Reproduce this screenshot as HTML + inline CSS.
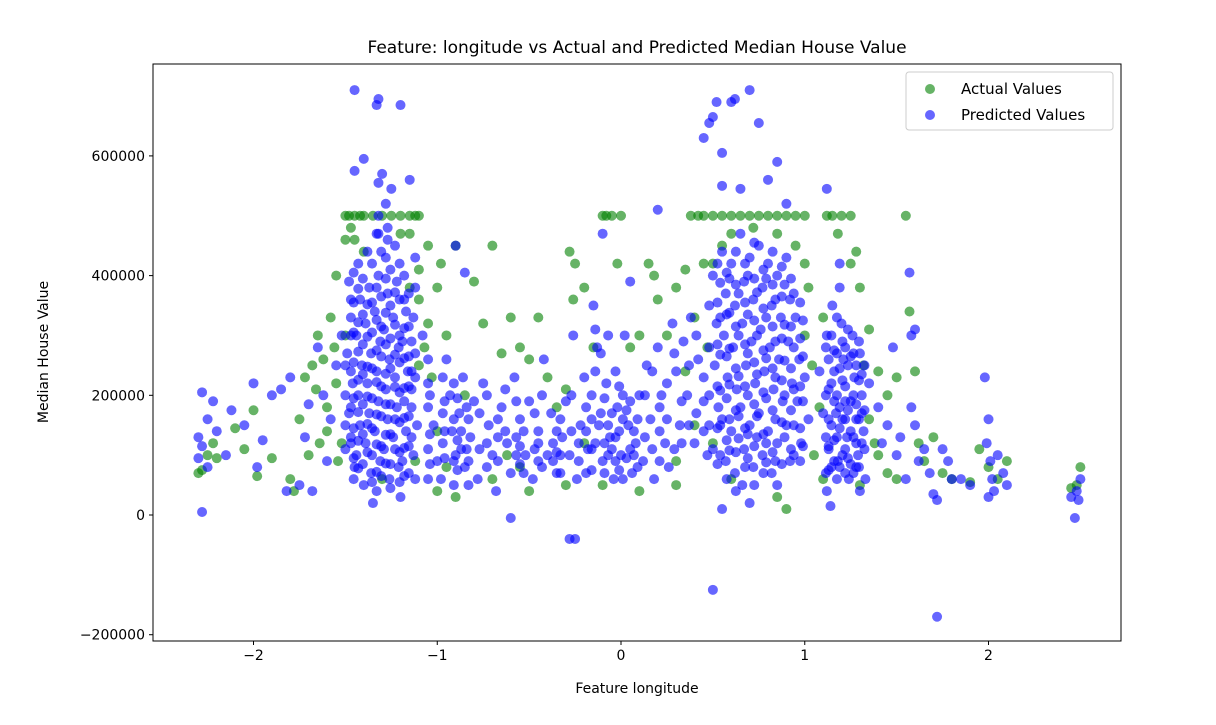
<!DOCTYPE html>
<html><head><meta charset="utf-8"><style>
body{margin:0;background:#fff;font-family:"Liberation Sans","DejaVu Sans",sans-serif}
svg text{font-family:"DejaVu Sans","Liberation Sans",sans-serif}
</style></head><body>
<svg id="chart" width="1216" height="720" xmlns="http://www.w3.org/2000/svg">
<rect width="1216" height="720" fill="#fff"/>
<g id="marks"></g>
<g id="axes"></g>
</svg>
<script>
// [feature value, median house value in thousands]
const actualPoints=[[-2.3,70],[-2.28,75],[-2.25,100],[-2.22,120],[-2.2,95],[-2.1,145],[-2.05,110],[-2.0,175],[-1.98,65],[-1.9,95],[-1.8,60],[-1.78,40],[-1.75,160],[-1.7,100],[-1.68,250],[-1.65,300],[-1.6,180],[-1.58,330],[-1.55,220],[-1.52,120],
[-1.5,500],[-1.48,500],[-1.45,500],[-1.42,500],[-1.4,500],[-1.35,500],[-1.3,500],[-1.25,500],[-1.2,500],[-1.15,500],[-1.12,500],[-1.1,500],[-1.45,460],[-1.4,440],[-1.2,470],[-1.1,410],[-1.05,450],[-1.0,380],[-0.98,420],[-1.05,320],[-0.95,300],[-0.9,450],[-0.85,200],[-0.8,390],[-0.75,320],[-0.7,450],[-0.65,270],[-0.6,330],[-0.55,280],[-0.5,260],[-0.45,330],[-0.4,230],[-0.35,180],[-0.3,210],[-0.28,440],[-0.26,360],[-0.25,420],[-0.2,380],[-0.15,280],[-0.1,500],[-0.08,500],[-0.05,500],[0,500],[-0.02,420],[0.05,280],[0.1,300],[0.15,420],[0.18,400],[0.2,360],[0.25,300],[0.3,380],[0.35,410],[0.38,500],[0.42,500],[0.45,500],[0.5,500],[0.55,500],[0.6,500],[0.65,500],[0.7,500],[0.75,500],[0.8,500],[0.85,500],[0.9,500],[0.95,500],[1.0,500],[1.12,500],[1.15,500],[1.2,500],[1.25,500],[1.28,440],[1.3,380],[1.35,310],[1.4,240],[1.45,200],[1.5,230],[1.55,500],[1.57,340],[1.6,240],[1.62,120],[1.65,90],[1.7,130],[1.75,70],[1.8,60],[1.9,55],[1.95,110],[2.0,80],[2.05,60],[2.1,90],[2.45,45],[2.48,50],[2.5,80],
[-1.3,60],[-1.0,40],[-0.9,30],[-0.7,60],[-0.5,40],[-0.3,50],[-0.1,50],[0.1,40],[0.3,50],[0.6,60],[0.85,30],[0.9,10],[1.1,60],[1.3,50],[-0.55,80],[-0.2,120],[0.4,150],[0.5,120],[1.45,70],[1.5,60],
[-1.5,300],[-1.55,400],[-1.1,250],[-1.15,380],[0.5,420],[0.55,450],[1.0,300],[1.0,420],[1.1,330],[1.35,160],[-1.12,90],[-1.0,140],[-0.95,80],[-0.62,100],[0.3,90],[0.35,240],[1.05,100],[1.38,120],
[-1.62,260],[-1.66,210],[-1.6,140],[-1.56,280],[-1.64,120],[-1.72,230],[-1.54,90],[-1.5,460],[-1.47,480],[-1.15,470],[-1.1,360],[-1.07,280],[-1.03,230],[0.6,470],[0.72,480],[0.85,470],[0.95,450],[1.02,380],[1.04,250],[1.08,180],[1.18,470],[1.25,420],[1.32,250],[1.4,100],[0.47,280],[0.45,420],[0.4,330]];
const predictedPoints=[[-1.45,710],[-1.32,695],[-1.33,685],[-1.2,685],[-1.4,595],[-1.45,575],[-1.3,570],[-1.32,555],[-1.25,545],[-1.15,560],[-1.28,520],[0.45,630],[0.48,655],[0.5,665],[0.52,690],[0.6,690],[0.62,695],[0.7,710],[0.75,655],[0.55,605],[0.85,590],[0.8,560],[0.55,550],[0.65,545],[0.9,520],[1.12,545],[-0.25,-40],[-0.28,-40],[0.5,-125],[1.72,-170],[-2.28,5],[-0.6,-5],[2.47,-5],[0.2,510],[-0.1,470],[-0.9,450],[-0.85,405],[0.05,390],[1.57,405],[1.6,310],[1.58,300],
[-2.3,130],[-2.28,205],[-2.25,160],[-2.22,190],[-2.25,80],[-2.2,140],[-2.28,115],[-2.3,95],[-2.15,100],[-2.12,175],[-2.05,150],[-2.0,220],[-1.98,80],[-1.95,125],[-1.9,200],[-1.85,210],[-1.8,230],[-1.82,40],[-1.75,50],[-1.72,130],[-1.7,185],[-1.68,40],[-1.65,280],[-1.62,200],[-1.6,90],[-1.58,160],[-1.55,250],[-1.52,300],
[-1.48,390],[-1.47,330],[-1.49,270],[-1.46,220],[-1.48,170],[-1.47,120],[-1.45,80],[-1.43,420],[-1.42,360],[-1.44,300],[-1.41,250],[-1.43,200],[-1.42,150],[-1.44,100],[-1.38,440],[-1.37,380],[-1.39,320],[-1.36,270],[-1.38,220],[-1.37,170],[-1.39,120],[-1.36,70],[-1.33,470],[-1.32,400],[-1.34,340],[-1.31,290],[-1.33,240],[-1.32,190],[-1.34,140],[-1.31,90],[-1.33,40],[-1.28,430],[-1.27,370],[-1.29,310],[-1.26,260],[-1.28,210],[-1.27,160],[-1.29,110],[-1.26,60],[-1.23,450],[-1.22,390],[-1.24,330],[-1.21,280],[-1.23,230],[-1.22,180],[-1.24,130],[-1.21,80],[-1.18,400],[-1.17,340],[-1.19,290],[-1.16,240],[-1.18,190],[-1.17,140],[-1.19,90],[-1.13,330],[-1.12,270],[-1.14,210],[-1.11,150],[-1.13,100],[-1.35,20],[-1.2,30],[-1.4,50],
[-1.08,300],[-1.05,220],[-1.02,150],[-1.0,90],[-0.98,60],[-0.95,260],[-0.93,200],[-0.92,140],[-0.9,100],[-0.88,170],[-0.86,230],[-0.85,80],[-0.82,130],[-0.8,190],[-0.78,60],[-0.75,220],[-0.72,150],[-0.7,100],[-0.68,40],[-0.65,180],[-0.62,120],[-0.6,70],[-0.58,230],[-0.55,160],[-0.52,100],[-0.5,190],[-0.48,60],[-0.45,140],[-0.42,260],[-0.4,100],[-0.38,170],[-0.35,70],[-0.32,130],[-0.3,190],[-0.28,100],[-0.26,300],[-0.24,60],[-0.22,150],[-0.2,230],[-0.18,110],[-0.16,200],[-0.15,350],[-0.13,280],[-0.12,150],[-0.1,90],[-0.08,220],[-0.06,130],[-0.04,60],[-0.02,180],[0.0,100],[0.02,300],[0.04,150],[0.06,70],[0.08,120],[0.1,200],[0.12,90],[0.14,250],[0.16,160],[0.18,60],[0.2,280],[0.22,200],[0.24,120],[0.26,80],[0.28,320],[0.3,240],[0.32,150],[0.34,290],[0.36,200],[0.38,330],[0.4,120],[0.42,260],[0.45,190],[0.47,100],
[0.5,400],[0.52,320],[0.51,250],[0.53,180],[0.5,110],[0.55,440],[0.57,370],[0.56,300],[0.58,230],[0.55,160],[0.57,90],[0.6,420],[0.62,350],[0.61,280],[0.63,210],[0.6,140],[0.62,70],[0.65,470],[0.67,390],[0.66,320],[0.68,250],[0.65,180],[0.67,110],[0.66,50],[0.7,430],[0.72,360],[0.71,290],[0.73,220],[0.7,150],[0.72,80],[0.75,450],[0.77,380],[0.76,310],[0.78,240],[0.75,170],[0.77,100],[0.8,420],[0.82,350],[0.81,280],[0.83,210],[0.8,140],[0.82,70],[0.85,400],[0.87,330],[0.86,260],[0.88,190],[0.85,120],[0.9,430],[0.92,360],[0.91,290],[0.93,220],[0.9,150],[0.92,90],[0.95,330],[0.97,260],[0.96,190],[0.98,120],[1.0,230],[1.02,160],[0.85,50],[0.7,20],[0.55,10],
[1.08,240],[1.1,170],[1.12,300],[1.13,110],[1.15,350],[1.16,240],[1.17,170],[1.18,90],[1.2,320],[1.21,260],[1.22,190],[1.23,130],[1.24,60],[1.26,300],[1.27,230],[1.28,160],[1.29,100],[1.3,270],[1.31,200],[1.32,140],[1.33,60],[1.35,220],[1.12,40],[1.14,15],[1.3,40],
[1.4,180],[1.42,120],[1.45,150],[1.48,280],[1.5,100],[1.52,130],[1.55,60],[1.58,180],[1.6,150],[1.62,90],[1.65,110],[1.68,70],[1.7,35],[1.72,25],[1.75,110],[1.78,90],[1.8,60],[1.85,60],[1.9,50],[1.98,230],[2.0,160],[1.99,120],[2.01,90],[2.02,60],[2.03,40],[2.0,30],[2.05,100],[2.08,70],[2.1,50],[2.45,30],[2.48,40],[2.5,60],[2.49,25]];
// extra predicted columns in the dense clusters: [feature value, [values in thousands]]
const predictedLeftCluster=[[-1.455,[405,355,305,255,195,145,95,60]],[-1.405,[395,335,285,235,185,135,85]],[-1.355,[420,355,305,245,195,145,100,55]],[-1.305,[440,365,315,265,215,165,115,65]],[-1.255,[410,350,295,245,185,135,85,45]],[-1.205,[420,360,300,255,205,155,105,55]],[-1.155,[370,315,265,215,165,115,70]],[-1.12,[430,380,230,60]],[-1.5,[250,200,150,110]],[-1.32,[470,500]],[-1.27,[480,460]]];
const predictedLeftCore=[[-1.43,[378,322,273,226,172,124,78]],[-1.38,[352,298,248,198,152,105]],[-1.33,[380,326,275,222,168,118,72]],[-1.28,[395,338,285,236,185,134,86]],[-1.23,[372,318,268,214,160,110]],[-1.18,[360,312,262,212,162,112,65]],[-1.47,[360,300,240,180,130]],[-1.14,[290,240,180,130]]];
const predictedRightCluster=[[0.525,[420,355,285,215,145,85]],[0.575,[405,335,265,195,125,60]],[0.625,[440,385,315,245,175,105,40]],[0.675,[420,355,285,215,145,80]],[0.725,[455,395,325,255,185,115,50]],[0.775,[410,345,275,205,135,70]],[0.825,[440,385,315,245,175,105]],[0.875,[415,365,295,225,155,85]],[0.925,[395,315,245,175,110]],[0.975,[355,295,215,145,90]],[0.48,[350,280,200,150]]];
const predictedRightCore=[[0.54,[388,330,268,208,150,100]],[0.59,[395,338,278,218,160,108]],[0.64,[370,300,232,165,128]],[0.69,[400,335,270,200,135,95]],[0.74,[372,300,235,165,130]],[0.79,[395,330,262,195,120,88]],[0.84,[360,290,230,160,90]],[0.89,[385,318,258,200,130]],[0.94,[370,280,210,150,100]],[0.99,[325,265,190,115]]];
const predictedFarRightCluster=[[1.115,[280,200,130,70]],[1.145,[300,220,150,80]],[1.175,[330,270,200,130,60]],[1.205,[290,225,160,100]],[1.235,[310,250,175,95]],[1.265,[270,200,130,70]],[1.295,[290,225,160,80]],[1.325,[250,175,110]],[1.19,[380,420]]];
const predictedFarRightCore=[[1.13,[260,210,160,115,75]],[1.16,[275,190,125,90]],[1.19,[245,180,145,80]],[1.22,[280,215,160,110,70]],[1.25,[265,190,140,85]],[1.28,[250,185,120,80]],[1.31,[235,170,120]]];
const predictedMiddle=[[-1.05,[260,180,110,60]],[-0.97,[230,170,120]],[-0.91,[220,160,90,50]],[-0.87,[140,110]],[-0.83,[160,90,50]],[-0.77,[170,110]],[-0.73,[200,120,80]],[-0.67,[130,90,160]],[-0.63,[210,140]],[-0.57,[100,130,190]],[-0.53,[140,70]],[-0.47,[110,170]],[-0.43,[80,200]],[-0.37,[120,90]],[-0.33,[160,100,70]],[-0.27,[140,200]],[-0.23,[90,120]],[-0.19,[180,140,70]],[-0.14,[120,240,310]],[-0.11,[170,270]],[-0.07,[100,150,300]],[-0.03,[130,90,240]],[0.01,[160,200,60]],[0.05,[110,190]],[0.09,[160,80]],[0.13,[130,200]],[0.17,[110,240]],[0.21,[140,180,90]],[0.25,[220,160]],[0.29,[110,270]],[0.33,[190,120]],[0.37,[250,150]],[0.41,[170,300]],[0.45,[140,230]]];
const predictedMiddleCore=[[-1.04,[200,135,85]],[-0.96,[190,140,95]],[-0.89,[195,125,75]],[-0.84,[180,110]],[-0.16,[160,110,75]],[-0.09,[195,120,70]],[-0.05,[170,110]],[-0.01,[215,140,75]],[0.03,[175,95]],[0.07,[140,100]],[-0.55,[115,85]],[-0.45,[120,90]],[-0.35,[140,105]]];
const xTicks=[-2,-1,0,1,2];
const yTicks=[-200000,0,200000,400000,600000];
const yTickLabels=["\u2212200000","0","200000","400000","600000"];

const L=153,R=1121,T=64,B=641;
const xMin=-2.547,xMax=2.721,yMin=-210500,yMax=753550;
const sx=v=>L+(v-xMin)/(xMax-xMin)*(R-L);
const sy=v=>B-(v-yMin)/(yMax-yMin)*(B-T);
const NS="http://www.w3.org/2000/svg";
function mk(tag,attrs,parent){const e=document.createElementNS(NS,tag);for(const k in attrs)e.setAttribute(k,attrs[k]);parent.appendChild(e);return e;}
const marks=document.getElementById('marks');
const axes=document.getElementById('axes');
function dot(x,yk,color,name){
  const c=mk('circle',{cx:sx(x),cy:sy(yk*1000),r:5,fill:color,'fill-opacity':0.6},marks);
  
  
}
actualPoints.forEach(p=>dot(p[0],p[1],'#008000','actual-point'));
predictedPoints.forEach(p=>dot(p[0],p[1],'#0000ff','predicted-point'));
[predictedLeftCluster,predictedLeftCore,predictedRightCluster,predictedRightCore,predictedFarRightCluster,predictedFarRightCore,predictedMiddle,predictedMiddleCore].forEach(arr=>{
  arr.forEach(col=>col[1].forEach(v=>dot(col[0],v,'#0000ff','predicted-point')));
});
const frame=mk('rect',{x:L,y:T,width:R-L,height:B-T,fill:'none',stroke:'#000','stroke-width':1},axes);


xTicks.forEach(t=>{
  const x=sx(t);
  mk('line',{x1:x,x2:x,y1:B,y2:B+4,stroke:'#000'},axes);
  const tx=mk('text',{x:x,y:B+19,'text-anchor':'middle','font-size':14},axes);
  tx.textContent=t<0?'\u2212'+(-t):String(t);
  
  
});
yTicks.forEach((t,i)=>{
  const y=sy(t);
  mk('line',{x1:L-4,x2:L,y1:y,y2:y,stroke:'#000'},axes);
  const tx=mk('text',{x:L-8,y:y+5,'text-anchor':'end','font-size':14},axes);
  tx.textContent=yTickLabels[i];
  
  
});
</script>
<svg style="position:absolute;left:0;top:0" width="1216" height="720" xmlns="http://www.w3.org/2000/svg">
<text x="637" y="53" text-anchor="middle" font-size="17" font-family="DejaVu Sans, Liberation Sans, sans-serif">Feature: longitude vs Actual and Predicted Median House Value</text>
<text x="637" y="693" text-anchor="middle" font-size="14" font-family="DejaVu Sans, Liberation Sans, sans-serif">Feature longitude</text>
<text transform="translate(48,352) rotate(-90)" text-anchor="middle" font-size="14" font-family="DejaVu Sans, Liberation Sans, sans-serif">Median House Value</text>
<g>
<rect x="906" y="72" width="207" height="58" rx="3" fill="#fff" fill-opacity="0.8" stroke="#ccc"/>
<circle cx="930" cy="89" r="5" fill="#008000" fill-opacity="0.6"/>
<text x="961" y="94" font-size="15" font-family="DejaVu Sans, Liberation Sans, sans-serif">Actual Values</text>
<circle cx="930" cy="115" r="5" fill="#0000ff" fill-opacity="0.6"/>
<text x="961" y="120" font-size="15" font-family="DejaVu Sans, Liberation Sans, sans-serif">Predicted Values</text>
</g>
</svg>
</body></html>
